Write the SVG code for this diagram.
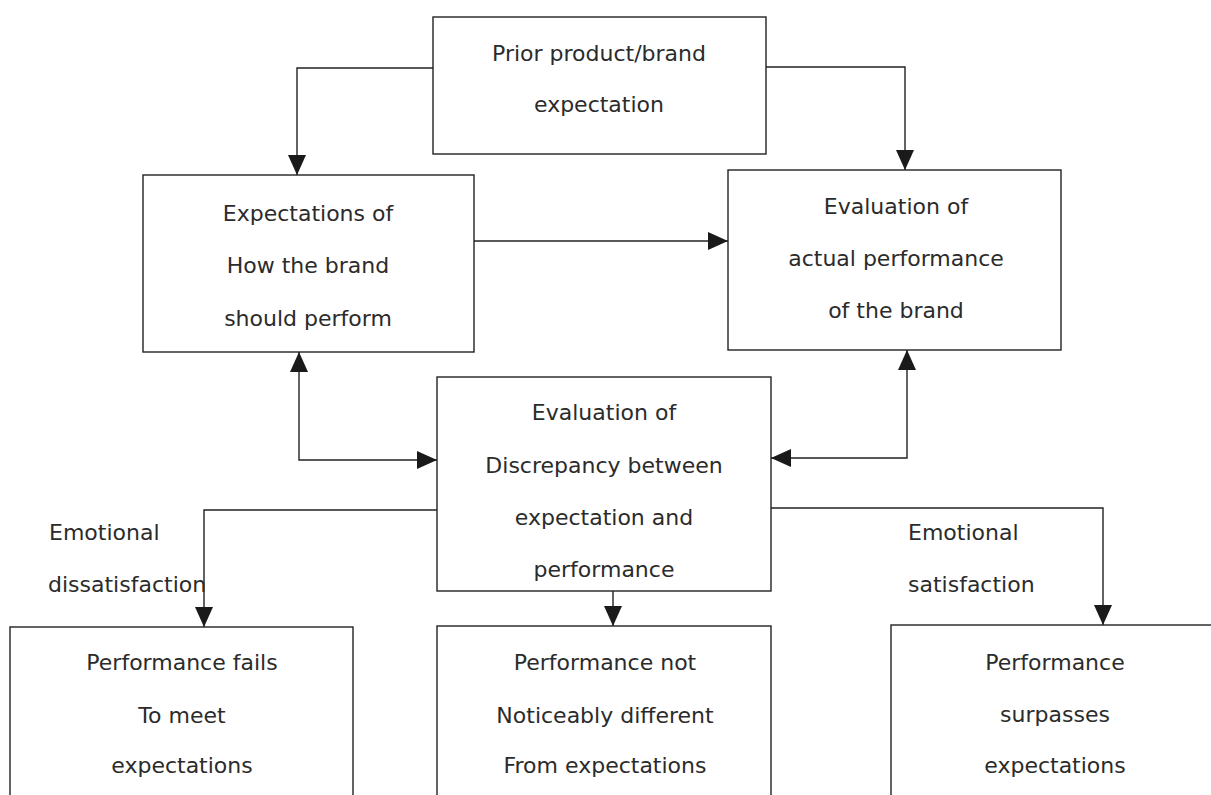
<svg xmlns="http://www.w3.org/2000/svg" width="1211" height="795" viewBox="0 0 1211 795">
  <style>
    .box { fill: #ffffff; stroke: #222; stroke-width: 1.4; }
    .lbl { font-family: "DejaVu Sans", "Liberation Sans", sans-serif; font-size: 22px; fill: #2b2b2b; text-anchor: middle; }
    .free { font-family: "DejaVu Sans", "Liberation Sans", sans-serif; font-size: 22px; fill: #2b2b2b; }
    .conn { fill: none; stroke: #222; stroke-width: 1.4; }
  </style>
  <defs>
    <marker id="arr" markerUnits="userSpaceOnUse" markerWidth="20" markerHeight="20" viewBox="0 0 20 20" refX="20" refY="10" orient="auto-start-reverse">
      <path d="M0,1 L20,10 L0,19 Z" fill="#1a1a1a"/>
    </marker>
  </defs>
  <rect width="1211" height="795" fill="#ffffff"/>

  <g id="connectors">
    <path class="conn" d="M433,68 H297 V175" marker-end="url(#arr)"/>
    <path class="conn" d="M766,67 H905 V170" marker-end="url(#arr)"/>
    <path class="conn" d="M474,241 H728" marker-end="url(#arr)"/>
    <path class="conn" d="M299,352 V460 H437" marker-start="url(#arr)" marker-end="url(#arr)"/>
    <path class="conn" d="M907,350 V458 H771" marker-start="url(#arr)" marker-end="url(#arr)"/>
    <path class="conn" d="M437,510 H204 V627" marker-end="url(#arr)"/>
    <path class="conn" d="M613,591 V626" marker-end="url(#arr)"/>
    <path class="conn" d="M771,508 H1103 V625" marker-end="url(#arr)"/>
  </g>

  <g id="n-prior">
    <rect class="box" x="433" y="17" width="333" height="137"/>
    <text class="lbl" x="599" y="61">Prior product/brand</text>
    <text class="lbl" x="599" y="112">expectation</text>
  </g>

  <g id="n-expect">
    <rect class="box" x="143" y="175" width="331" height="177"/>
    <text class="lbl" x="308" y="221">Expectations of</text>
    <text class="lbl" x="308" y="273">How the brand</text>
    <text class="lbl" x="308" y="326">should perform</text>
  </g>

  <g id="n-actual">
    <rect class="box" x="728" y="170" width="333" height="180"/>
    <text class="lbl" x="896" y="214">Evaluation of</text>
    <text class="lbl" x="896" y="266">actual performance</text>
    <text class="lbl" x="896" y="318">of the brand</text>
  </g>

  <g id="n-discrepancy">
    <rect class="box" x="437" y="377" width="334" height="214"/>
    <text class="lbl" x="604" y="420">Evaluation of</text>
    <text class="lbl" x="604" y="473">Discrepancy between</text>
    <text class="lbl" x="604" y="525">expectation and</text>
    <text class="lbl" x="604" y="577">performance</text>
  </g>

  <g id="n-fails">
    <rect class="box" x="10" y="627" width="343" height="180"/>
    <text class="lbl" x="182" y="670">Performance fails</text>
    <text class="lbl" x="182" y="723">To meet</text>
    <text class="lbl" x="182" y="773">expectations</text>
  </g>

  <g id="n-notdiff">
    <rect class="box" x="437" y="626" width="334" height="180"/>
    <text class="lbl" x="605" y="670">Performance not</text>
    <text class="lbl" x="605" y="723">Noticeably different</text>
    <text class="lbl" x="605" y="773">From expectations</text>
  </g>

  <g id="n-surpass">
    <rect class="box" x="891" y="625" width="330" height="180"/>
    <text class="lbl" x="1055" y="670">Performance</text>
    <text class="lbl" x="1055" y="722">surpasses</text>
    <text class="lbl" x="1055" y="773">expectations</text>
  </g>

  <g id="labels">
    <text class="free" x="49" y="540">Emotional</text>
    <text class="free" x="48" y="592">dissatisfaction</text>
    <text class="free" x="908" y="540">Emotional</text>
    <text class="free" x="908" y="592">satisfaction</text>
  </g>
</svg>
